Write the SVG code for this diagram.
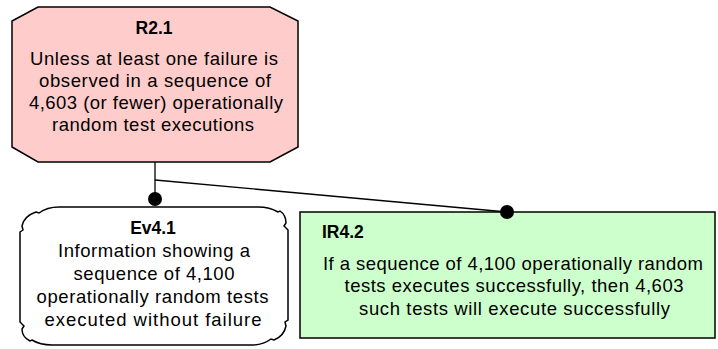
<svg xmlns="http://www.w3.org/2000/svg" width="718" height="349" viewBox="0 0 718 349">
<style>
.t{font-family:"Liberation Sans",Arial,sans-serif;font-size:18.5px;fill:#000}
.c{text-anchor:middle}
.b{font-weight:bold;font-size:17.5px}
.edge{fill:none;stroke:#000;stroke-width:1.3}
.dot{fill:#000}
.box{stroke:#000;stroke-width:1.5}
</style>
<rect width="718" height="349" fill="#fff"/>
<g id="R2.1">
<polygon class="box" fill="#ffcccc" points="38,7 270,7 298,21 298,147 270,162 38,162 12,147 12,21"/>
<text class="t c b" x="154" y="34">R2.1</text>
<text class="t c" x="154" y="65" textLength="248" lengthAdjust="spacing">Unless at least one failure is</text>
<text class="t c" x="155" y="87" textLength="232" lengthAdjust="spacing">observed in a sequence of</text>
<text class="t c" x="156" y="109" textLength="254" lengthAdjust="spacing">4,603 (or fewer) operationally</text>
<text class="t c" x="153" y="131" textLength="202" lengthAdjust="spacing">random test executions</text>
</g>
<g id="Ev4.1">
<path class="box" fill="#fff" d="M20,232 l3,-2 l-1,-4 q2,-10 14,-14 l3,1 q8,-6 20,-6 H258 q12,0 20,5 l2,-1 q6,4 6,12 l-2,3 l4,4 V320 l-3,2 l1,4 q-2,10 -12,14 l-3,-1 q-8,6 -20,6 H52 q-12,0 -20,-5 l-2,1 q-8,-4 -8,-12 l2,-3 l-4,-4 Z"/>
<text class="t c b" x="153" y="234">Ev4.1</text>
<text class="t c" x="154" y="257" textLength="192" lengthAdjust="spacing">Information showing a</text>
<text class="t c" x="154" y="280" textLength="161" lengthAdjust="spacing">sequence of 4,100</text>
<text class="t c" x="152.5" y="303" textLength="232" lengthAdjust="spacing">operationally random tests</text>
<text class="t c" x="153" y="326" textLength="217" lengthAdjust="spacing">executed without failure</text>
</g>
<g id="IR4.2">
<rect class="box" fill="#ccffcc" x="300" y="212" width="415" height="126"/>
<text class="t b" x="322" y="238">IR4.2</text>
<text class="t c" x="513" y="270" textLength="380" lengthAdjust="spacing">If a sequence of 4,100 operationally random</text>
<text class="t c" x="514" y="292" textLength="339" lengthAdjust="spacing">tests executes successfully, then 4,603</text>
<text class="t c" x="514.5" y="315" textLength="311" lengthAdjust="spacing">such tests will execute successfully</text>
</g>
<g id="connectors">
<path class="edge" d="M155,162 V199"/>
<path class="edge" d="M155,180 L507,212"/>
<circle class="dot" cx="155" cy="199" r="7"/>
<circle class="dot" cx="507" cy="212" r="7"/>
</g>
</svg>
